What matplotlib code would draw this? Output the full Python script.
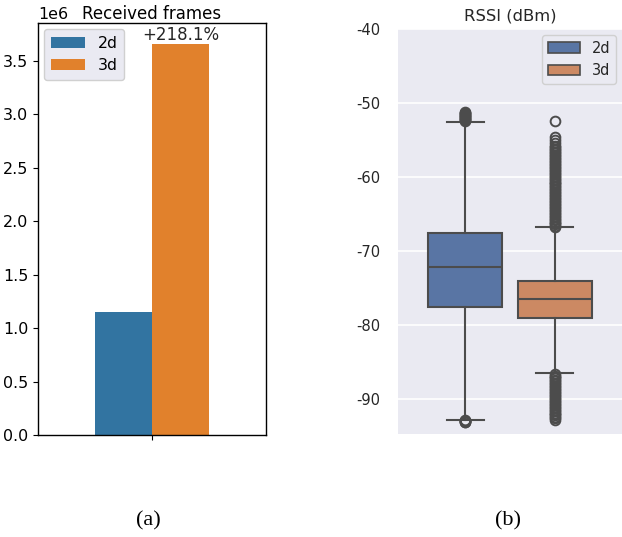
import matplotlib
matplotlib.use("Agg")
import matplotlib.pyplot as plt
from matplotlib.patches import Patch

plt.rcParams['axes.unicode_minus'] = False
plt.rcParams['font.family'] = ['DejaVu Sans']

# ---------------- data ----------------
series = ["2d", "3d"]
frames = [1148000, 3652000]
increase_label = "+218.1%"

# RSSI box statistics (dBm)
rssi_q1 = [-77.6, -79.1]
rssi_med = [-72.1, -76.45]
rssi_q3 = [-67.5, -74.1]
rssi_whislo = [-92.75, -86.5]
rssi_whishi = [-52.5, -66.7]
fliers_2d = [-51.2, -51.3, -51.4, -51.5, -51.6, -51.7, -51.8, -51.9, -52.0,
             -52.1, -52.2, -52.3, -52.4,
             -92.85, -92.9, -92.95, -93.0, -93.05, -93.1]
fliers_3d = [-52.4, -54.55, -55.0, -55.45, -55.8,
             -56.0, -56.2, -56.4, -56.6, -56.8, -57.0, -57.2, -57.4, -57.6,
             -57.8, -58.0, -58.2, -58.4, -58.6, -58.8, -59.0, -59.2, -59.4,
             -59.6, -59.8, -60.0, -60.2, -60.4, -60.6, -60.8, -61.0, -61.2,
             -61.4, -61.6, -61.8, -62.0, -62.2, -62.4, -62.6, -62.8, -63.0,
             -63.2, -63.4, -63.6, -63.8, -64.0, -64.2, -64.4, -64.6, -64.8,
             -65.0, -65.2, -65.4, -65.6, -65.8, -66.0, -66.2, -66.4, -66.6,
             -66.8,
             -86.6, -86.8, -87.0, -87.2, -87.4, -87.6, -87.8, -88.0, -88.2,
             -88.4, -88.6, -88.8, -89.0, -89.2, -89.4, -89.6, -89.8, -90.0,
             -90.2, -90.4, -90.6, -90.8, -91.0, -91.2, -91.4, -91.6, -91.8,
             -92.0, -92.2, -92.4, -92.6, -92.8]
rssi_fliers = [fliers_2d, fliers_3d]
rssi_ticks = [-40, -50, -60, -70, -80, -90]

bar_colors = ["#3274a1", "#e1812c"]
box_colors = ["#5975a4", "#cc8963"]
line_gray = "#4c4c4c"
text_col = "#262626"

fig = plt.figure(figsize=(6.22, 5.37), dpi=100)

# ---------------- (a) bar chart ----------------
ax1 = fig.add_axes([38/622, 1-435/537, 228/622, 412/537])
w = 0.25
xs = [-w/2, w/2]
for x, v, c, s in zip(xs, frames, bar_colors, series):
    ax1.bar(x, v, width=w, color=c, label=s)
ax1.set_xlim(-0.5, 0.5)
ax1.set_ylim(0, max(frames)*1.055)
ax1.set_xticks([0])
ax1.set_xticklabels([""])
ax1.tick_params(labelsize=11.4, colors="black", length=3.5)
ax1.yaxis.get_offset_text().set_fontsize(11.4)
ax1.set_title("Received frames", fontsize=12.0, pad=3)
ax1.text(xs[1], frames[1], increase_label, ha="center", va="bottom", fontsize=12.0,
         color=text_col)
for sp in ax1.spines.values():
    sp.set_color("black")
    sp.set_linewidth(1.0)
ax1.legend(loc="upper left", fontsize=11.3, facecolor="#eaeaf2",
           edgecolor="#d0d0d0", framealpha=1.0, handlelength=2.2,
           borderaxespad=0.4)

# ---------------- (b) boxplot ----------------
ax2 = fig.add_axes([398/622, 1-434/537, 224/622, 405/537])
ax2.set_facecolor("#eaeaf2")
for sp in ax2.spines.values():
    sp.set_visible(False)
ax2.grid(True, axis="y", color="white", linewidth=1.2)
ax2.set_axisbelow(True)

positions = [-0.2, 0.2]
stats = []
for i in range(2):
    stats.append(dict(med=rssi_med[i], q1=rssi_q1[i], q3=rssi_q3[i],
                      whislo=rssi_whislo[i], whishi=rssi_whishi[i],
                      fliers=rssi_fliers[i], label=series[i]))
bp = ax2.bxp(stats, positions=positions, widths=0.33, patch_artist=True,
             showfliers=True,
             boxprops=dict(edgecolor=line_gray, linewidth=1.5),
             medianprops=dict(color=line_gray, linewidth=1.5),
             whiskerprops=dict(color=line_gray, linewidth=1.5),
             capprops=dict(color=line_gray, linewidth=1.5),
             flierprops=dict(marker="o", markerfacecolor="none",
                             markeredgecolor=line_gray, markersize=7,
                             markeredgewidth=1.4))
for patch, c in zip(bp["boxes"], box_colors):
    patch.set_facecolor(c)
ax2.set_xlim(-0.5, 0.5)
ax2.set_xticks([])
ax2.set_ylim(-94.7, -40)
ax2.set_yticks(rssi_ticks)
ax2.set_yticklabels([str(t) for t in rssi_ticks])
ax2.tick_params(axis="y", labelsize=10.6, colors=text_col, length=0, pad=13)
ax2.set_title("RSSI (dBm)", fontsize=11.8, color=text_col, pad=6)
handles = [Patch(facecolor=c, edgecolor=line_gray, linewidth=1.2, label=s)
           for c, s in zip(box_colors, series)]
ax2.legend(handles=handles, loc="upper right", fontsize=10.5, facecolor="#eaeaf2",
           edgecolor="#d0d0d0", framealpha=1.0, handlelength=2.2,
           borderaxespad=0.4, labelcolor=text_col)

# ---------------- captions ----------------
fig.text(148/622, 1-521/537, "(a)", ha="center", va="center",
         fontsize=16, family="Liberation Serif")
fig.text(508/622, 1-521/537, "(b)", ha="center", va="center",
         fontsize=16, family="Liberation Serif")

fig.savefig("out.png", dpi=100)
